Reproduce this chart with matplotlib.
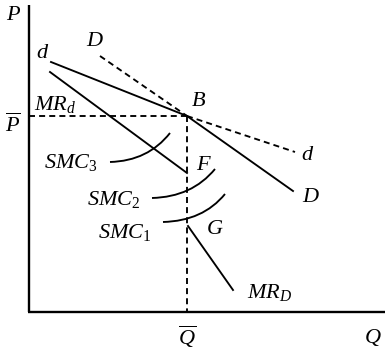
import matplotlib
matplotlib.use("Agg")
import matplotlib.pyplot as plt
from matplotlib.path import Path
from matplotlib.patches import PathPatch

plt.rcParams['font.family'] = ['Liberation Serif', 'DejaVu Serif']
plt.rcParams['mathtext.fontset'] = 'custom'
plt.rcParams['mathtext.rm'] = 'Liberation Serif'
plt.rcParams['mathtext.it'] = 'Liberation Serif:italic'

# diagram coordinates (pixel-like units, y grows downward)
origin = (29, 312)
x_end = 385
y_top = 5
kink_B = (187, 116)

d_solid = [(51, 62), kink_B]            # firm demand d, elastic part
d_dashed = [kink_B, (295, 152)]
D_dashed = [(100, 56), kink_B]          # market share demand D
D_solid = [kink_B, (293, 191)]
MR_d = [(50, 72), (187, 173)]           # point F at the end
MR_D = [(188, 226), (233, 290)]         # point G at the start

# SMC curves: start, control, end (quadratic bezier)
smc3 = [(110, 162), (148, 161), (170, 133)]
smc2 = [(152, 198), (192, 197), (215, 169)]
smc1 = [(163, 222), (203, 221), (225, 194)]

labels = [
    ("$P$", 14, 15, 'center', 'center'),
    ("$D$", 95, 41, 'center', 'center'),
    ("$d$", 43, 53, 'center', 'center'),
    ("$MR_d$", 34, 110, 'left', 'baseline'),
    ("$\\overline{P}$", 13, 125, 'center', 'center'),
    ("$SMC_3$", 44, 168, 'left', 'baseline'),
    ("$SMC_2$", 87, 205, 'left', 'baseline'),
    ("$SMC_1$", 98, 238, 'left', 'baseline'),
    ("$B$", 199, 102, 'center', 'center'),
    ("$d$", 308, 155, 'center', 'center'),
    ("$F$", 204, 165, 'center', 'center'),
    ("$D$", 311, 197, 'center', 'center'),
    ("$G$", 215, 229, 'center', 'center'),
    ("$MR_D$", 247, 298, 'left', 'baseline'),
    ("$\\overline{Q}$", 187, 337, 'center', 'center'),
    ("$Q$", 373, 338, 'center', 'center'),
]

fig = plt.figure(figsize=(3.85, 3.57), dpi=100)
ax = fig.add_axes([0, 0, 1, 1])
ax.set_xlim(0, 385)
ax.set_ylim(357, 0)
ax.axis('off')

lw = 1.35
dash = (0, (3.2, 2.2))

# axes
ax.plot([origin[0], origin[0]], [y_top, origin[1]], color='black', lw=1.7, solid_capstyle='butt')
ax.plot([origin[0] - 1, x_end], [origin[1], origin[1]], color='black', lw=1.7, solid_capstyle='butt')

# guide lines through B
ax.plot([origin[0], kink_B[0]], [kink_B[1], kink_B[1]], color='black', lw=lw, linestyle=dash)
ax.plot([kink_B[0], kink_B[0]], [kink_B[1], origin[1]], color='black', lw=lw, linestyle=dash)


def seg(pts, style='-'):
    xs = [p[0] for p in pts]
    ys = [p[1] for p in pts]
    ax.plot(xs, ys, color='black', lw=lw, linestyle=style)


seg(d_solid)
seg(d_dashed, dash)
seg(D_dashed, dash)
seg(D_solid)
seg(MR_d)
seg(MR_D)

for curve in [smc3, smc2, smc1]:
    path = Path(curve, [Path.MOVETO, Path.CURVE3, Path.CURVE3])
    ax.add_patch(PathPatch(path, facecolor='none', edgecolor='black', lw=lw))

for txt, x, y, ha, va in labels:
    ax.text(x, y, txt, fontsize=16, ha=ha, va=va)

plt.savefig("out.png", dpi=100)
